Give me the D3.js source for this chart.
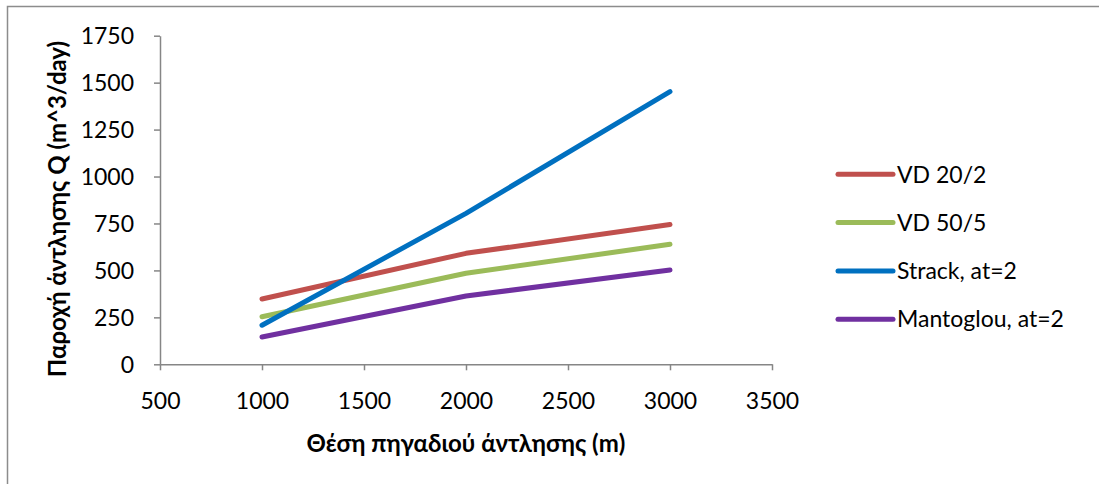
<!DOCTYPE html>
<html>
<head>
<meta charset="utf-8">
<script src="https://cdn.jsdelivr.net/npm/d3@7"></script>
<style>
  html, body { margin: 0; padding: 0; background: #fff; }
  svg { display: block; font-family: Lato, "Open Sans", sans-serif; }
</style>
</head>
<body>
<svg id="chart" width="1099" height="484"></svg>
<script>
// Well position along the section (m)
const positions = [1000, 2000, 3000];

// Pumping rate Q (m^3/day) for each method
const seriesNames = ["VD 20/2", "VD 50/5", "Strack, at=2", "Mantoglou, at=2"];
const vd20_2     = [348, 591, 744];
const vd50_5     = [253, 485, 639];
const strack     = [208, 804, 1452];
const mantoglou  = [145, 364, 502];

const seriesColors = ["#C0504D", "#9BBB59", "#0070C0", "#7030A0"];

const xTicks = [500, 1000, 1500, 2000, 2500, 3000, 3500];
const yTicks = [0, 250, 500, 750, 1000, 1250, 1500, 1750];

const xTitle = "Θέση πηγαδιού άντλησης (m)";
const yTitle = "Παροχή άντλησης Q (m^3/day)";

const series = [vd20_2, vd50_5, strack, mantoglou].map((vals, i) => ({
  name: seriesNames[i],
  color: seriesColors[i],
  points: vals.map((v, j) => ({ x: positions[j], y: v }))
}));

const svg = d3.select("#chart");
const axisColor = "#868686";
const fontSize = 23;
const titleSize = 24;

// outer chart frame
svg.append("rect")
  .attr("x", 7.5).attr("y", 6.5)
  .attr("width", 1110).attr("height", 500)
  .attr("fill", "#fff")
  .attr("stroke", "#8c8c8c")
  .attr("stroke-width", 1.5);

const plot = { left: 160, right: 772, top: 35.7, bottom: 364.3 };

const x = d3.scaleLinear().domain([500, 3500]).range([plot.left, plot.right]);
const y = d3.scaleLinear().domain([0, 1750]).range([plot.bottom, plot.top]);
const fmt = d3.format("d");

// y axis
const yAxis = svg.append("g")
  .attr("transform", `translate(${plot.left},0)`)
  .call(d3.axisLeft(y).tickValues(yTicks).tickFormat(fmt).tickSize(6).tickPadding(20).tickSizeOuter(0));
// x axis
const xAxis = svg.append("g")
  .attr("transform", `translate(0,${plot.bottom})`)
  .call(d3.axisBottom(x).tickValues(xTicks).tickFormat(fmt).tickSize(6).tickSizeOuter(0));

[xAxis, yAxis].forEach(g => {
  g.select(".domain").attr("stroke", axisColor).attr("stroke-width", 1.5);
  g.selectAll(".tick line").attr("stroke", axisColor).attr("stroke-width", 1.5);
  g.selectAll(".tick text")
    .attr("fill", "#000")
    .style("font-family", "Lato, 'Open Sans', sans-serif")
    .style("font-size", fontSize + "px");
});
yAxis.selectAll(".tick text").attr("dy", "0.36em");
xAxis.selectAll(".tick text").attr("y", 45).attr("dy", 0);

// series lines
const line = d3.line().x(d => x(d.x)).y(d => y(d.y));
svg.append("g").selectAll("path")
  .data(series)
  .join("path")
  .attr("d", d => line(d.points))
  .attr("fill", "none")
  .attr("stroke", d => d.color)
  .attr("stroke-width", 5)
  .attr("stroke-linecap", "round")
  .attr("stroke-linejoin", "round");

// axis titles
svg.append("text")
  .attr("x", (plot.left + plot.right) / 2)
  .attr("y", 452)
  .attr("text-anchor", "middle")
  .style("font-size", titleSize + "px")
  .style("font-weight", "bold")
  .text(xTitle);

svg.append("text")
  .attr("transform", `translate(66,${(plot.top + plot.bottom) / 2 + 9}) rotate(-90)`)
  .attr("text-anchor", "middle")
  .style("font-size", titleSize + "px")
  .style("font-weight", "bold")
  .text(yTitle);

// legend
const legend = svg.append("g");
const legendRows = legend.selectAll("g")
  .data(series)
  .join("g")
  .attr("transform", (d, i) => `translate(838,${174.3 + i * 48.3})`);
legendRows.append("line")
  .attr("x1", 0).attr("x2", 55)
  .attr("stroke", d => d.color)
  .attr("stroke-width", 5)
  .attr("stroke-linecap", "round");
legendRows.append("text")
  .attr("x", 59)
  .attr("dy", "0.36em")
  .style("font-size", fontSize + "px")
  .text(d => d.name);
</script>
</body>
</html>
